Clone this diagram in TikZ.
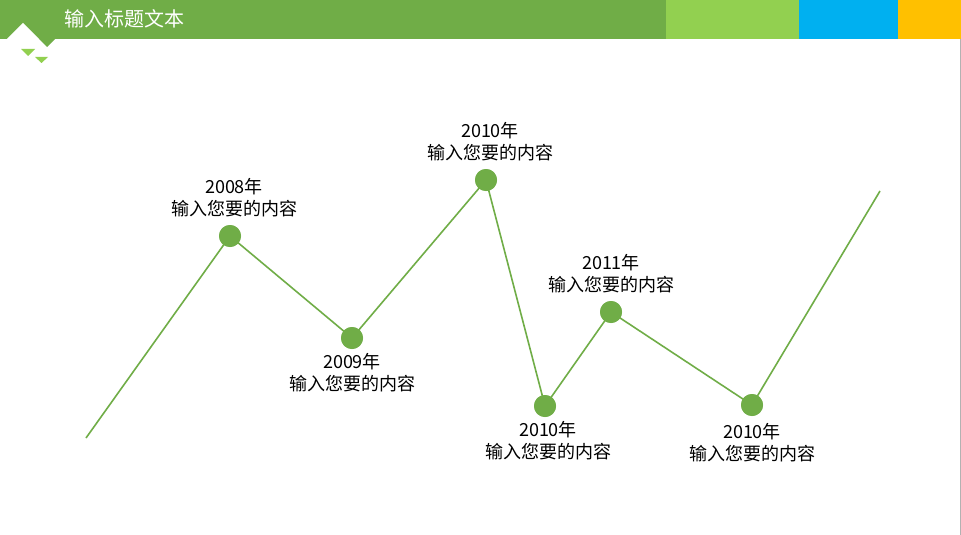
\documentclass[tikz,border=0pt]{standalone}
\usepackage{fontspec}
\newfontfamily\cjk{Noto Sans CJK SC}
\definecolor{mygreen}{HTML}{70AD47}
\definecolor{lightgreen}{HTML}{92D050}
\definecolor{myblue}{HTML}{00B0F0}
\definecolor{myyellow}{HTML}{FFC000}
\begin{document}
\begin{tikzpicture}[x=1pt,y=-1pt,
  dot/.style={circle,fill=mygreen,minimum size=22pt,inner sep=0pt},
  lbl/.style={align=center,font=\cjk\fontsize{18}{22}\selectfont,inner sep=0pt},
  link/.style={mygreen,line width=1.6pt}]
\useasboundingbox (0,0) rectangle (961,535);
\fill[white] (0,0) rectangle (961,535);
% header
\fill[mygreen] (0,0) rectangle (666,39);
\fill[lightgreen] (666,0) rectangle (799,39);
\fill[myblue] (799,0) rectangle (898,39);
\fill[myyellow] (898,0) rectangle (961,39);
\fill[white] (7,39) -- (23,23) -- (39,39) -- cycle;
\fill[mygreen] (39,39) -- (55,39) -- (47,47) -- cycle;
\fill[lightgreen] (21,49) -- (35,49) -- (28,56) -- cycle;
\fill[lightgreen] (35,57) -- (48,57) -- (41.5,63) -- cycle;
\draw[gray!60,line width=1pt] (960.5,39) -- (960.5,535);
\node[anchor=west,text=white,font=\cjk\fontsize{20}{22}\selectfont,inner sep=0pt] (title) at (64,19) {输入标题文本};
% line chart
\coordinate (s) at (86,438);
\coordinate (e) at (880,191);
\node[dot] (p1) at (230,236) {};
\node[dot] (p2) at (352,338) {};
\node[dot] (p3) at (486,180) {};
\node[dot] (p4) at (545,406) {};
\node[dot] (p5) at (611,312) {};
\node[dot] (p6) at (752,405) {};
\draw[link] (s) -- (p1.center) -- (p2.center) -- (p3.center) -- (p4.center) -- (p5.center) -- (p6.center) -- (e);
\foreach \p in {p1,p2,p3,p4,p5,p6} \node[dot] at (\p) {};
% labels
\node[lbl] (l1) at (234,198) {2008年\\输入您要的内容};
\node[lbl] (l2) at (352,373) {2009年\\输入您要的内容};
\node[lbl] (l3) at (490,142) {2010年\\输入您要的内容};
\node[lbl] (l4) at (548,441) {2010年\\输入您要的内容};
\node[lbl] (l5) at (611,274) {2011年\\输入您要的内容};
\node[lbl] (l6) at (752,443) {2010年\\输入您要的内容};
\end{tikzpicture}
\end{document}
